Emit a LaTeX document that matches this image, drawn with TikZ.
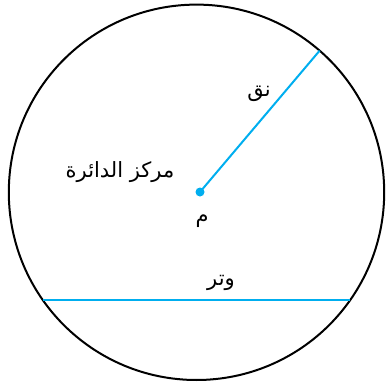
\documentclass[tikz,border=0pt]{standalone}
\usepackage{fontspec}
\usetikzlibrary{calc}
\newfontfamily\arabicfont[Script=Arabic]{DejaVu Sans}
\TeXXeTstate=1
\definecolor{cblue}{RGB}{0,174,239}
\begin{document}
\begin{tikzpicture}[x=1pt,y=1pt,
  rim/.style={draw=black,line width=2pt},
  seg/.style={draw=cblue,line width=2pt},
  lbl/.style={font=\arabicfont\fontsize{21}{24}\selectfont,inner sep=0pt}]
\useasboundingbox (0,0) rectangle (386,384);
\coordinate (O) at (196.5,191.7);
\draw[rim] (O) circle[radius=187.7];
\coordinate (M) at (200,192);
\coordinate (R) at ($(O)+(49:187.7)$);
\coordinate (A) at ($(O)+(214.9:187.7)$);
\coordinate (B) at ($(O)+(-34.9:187.7)$);
\draw[seg] (M) -- (R);
\draw[seg] (A) -- (B);
\fill[cblue] (M) circle[radius=4.5];
\node[lbl] (nq) at (259,290) {\beginR نق\endR};
\node[lbl] (mk) at (120,212) {\beginR مركز الدائرة\endR};
\node[lbl] (m) at (202,163) {\beginR م\endR};
\node[lbl] (wt) at (221,101) {\beginR وتر\endR};
\end{tikzpicture}
\end{document}
